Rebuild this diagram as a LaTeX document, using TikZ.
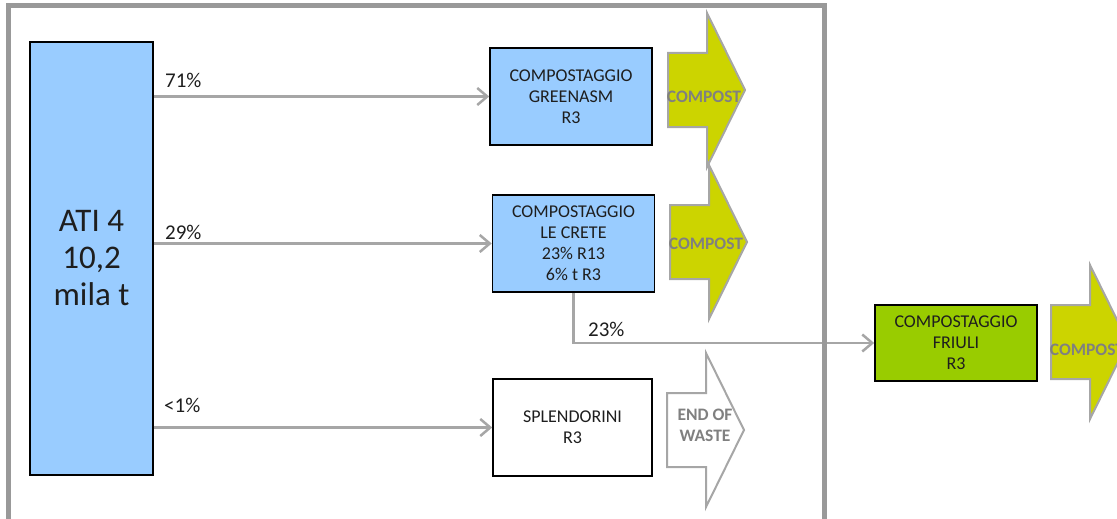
\documentclass[tikz,border=0pt]{standalone}
\usepackage{fontspec}
\setmainfont{Carlito}
\usepackage{tikz}
\usetikzlibrary{positioning}
\usetikzlibrary{arrows.meta}

\definecolor{atiblue}{RGB}{153,204,255}
\definecolor{friuligreen}{RGB}{153,204,0}
\definecolor{compostyellow}{RGB}{204,212,0}
\definecolor{flowgray}{RGB}{166,166,166}
\definecolor{framegray}{RGB}{153,153,153}
\definecolor{labelgray}{RGB}{128,128,128}
\definecolor{boxtext}{RGB}{30,30,30}

\tikzset{
  plant/.style={draw=black, line width=1.6pt, minimum width=162pt, minimum height=97pt,
    align=center, inner sep=0pt, text=boxtext, font=\fontsize{18}{21}\selectfont},
  flow/.style={draw=flowgray, line width=2.5pt, -{Straight Barb[length=10pt,width=17pt]}},
  pct/.style={anchor=west, inner sep=0pt, text=boxtext, font=\fontsize{21}{24}\selectfont},
  outtext/.style={align=center, inner sep=0pt, text=labelgray, font=\bfseries\fontsize{17.5}{21}\selectfont},
  pics/outarrow/.style={code={
    \draw[draw=flowgray, line width=2pt, fill=#1] (0,-37) -- (39,-37) -- (39,-77) -- (77,0)
      -- (39,77) -- (39,37) -- (0,37) -- cycle;}}
}

\begin{document}
\begin{tikzpicture}[x=1pt, y=-1pt]

        \useasboundingbox (0,0) rectangle (1117,519);
        \clip (0,0) rectangle (1117,519);

        % Output arrows
        \pic at (668,90) {outarrow=compostyellow};
        \pic at (670,242) {outarrow=compostyellow};
        \pic at (667,430) {outarrow=white};
        \pic at (1051,342) {outarrow=compostyellow};

        \node[outtext] (compost1) at (704,97) {COMPOST};
        \node[outtext] (compost2) at (706,244) {COMPOST};
        \node[outtext] (eow) at (705,425) {END OF\\WASTE};
        \node[outtext] (compost4) at (1087,350) {COMPOST};

        % Source
        \node[draw=black, line width=1.6pt, fill=atiblue, minimum width=123pt, minimum height=433pt,
          align=center, text=boxtext, font=\fontsize{33}{37}\selectfont] (ati) at (91.5,258.5) {ATI 4\\10,2\\mila t};

        % Plants
        \node[plant, fill=atiblue] (greenasm) at (571,96.5) {COMPOSTAGGIO\\GREENASM\\R3};
        \node[plant, fill=atiblue] (crete) at (573.5,243.5) {COMPOSTAGGIO\\LE CRETE\\23\% R13\\6\% t R3};
        \node[plant, fill=white, minimum width=159pt] (splendorini) at (572.5,427.5) {SPLENDORINI\\R3};
        \node[plant, fill=friuligreen, minimum height=76pt] (friuli) at (956,343) {COMPOSTAGGIO\\FRIULI\\R3};

        % Flows
        \draw[flow] (ati.east |- greenasm.west) -- (greenasm.west);
        \draw[flow] (ati.east |- crete.west) -- (crete.west);
        \draw[flow] (ati.east |- splendorini.west) -- (splendorini.west);
        \draw[flow] (crete.south) -- (crete.south |- friuli.west) -- (friuli.west);

        \node[pct] (p71) at (165,80) {71\%};
        \node[pct] (p29) at (165,232) {29\%};
        \node[pct] (p1) at (164,405) {<1\%};
        \node[pct] (p23) at (588,329) {23\%};

        % Frame
        \draw[framegray, line width=5pt] (8.5,5.5) rectangle (824,521);

\end{tikzpicture}
\end{document}
